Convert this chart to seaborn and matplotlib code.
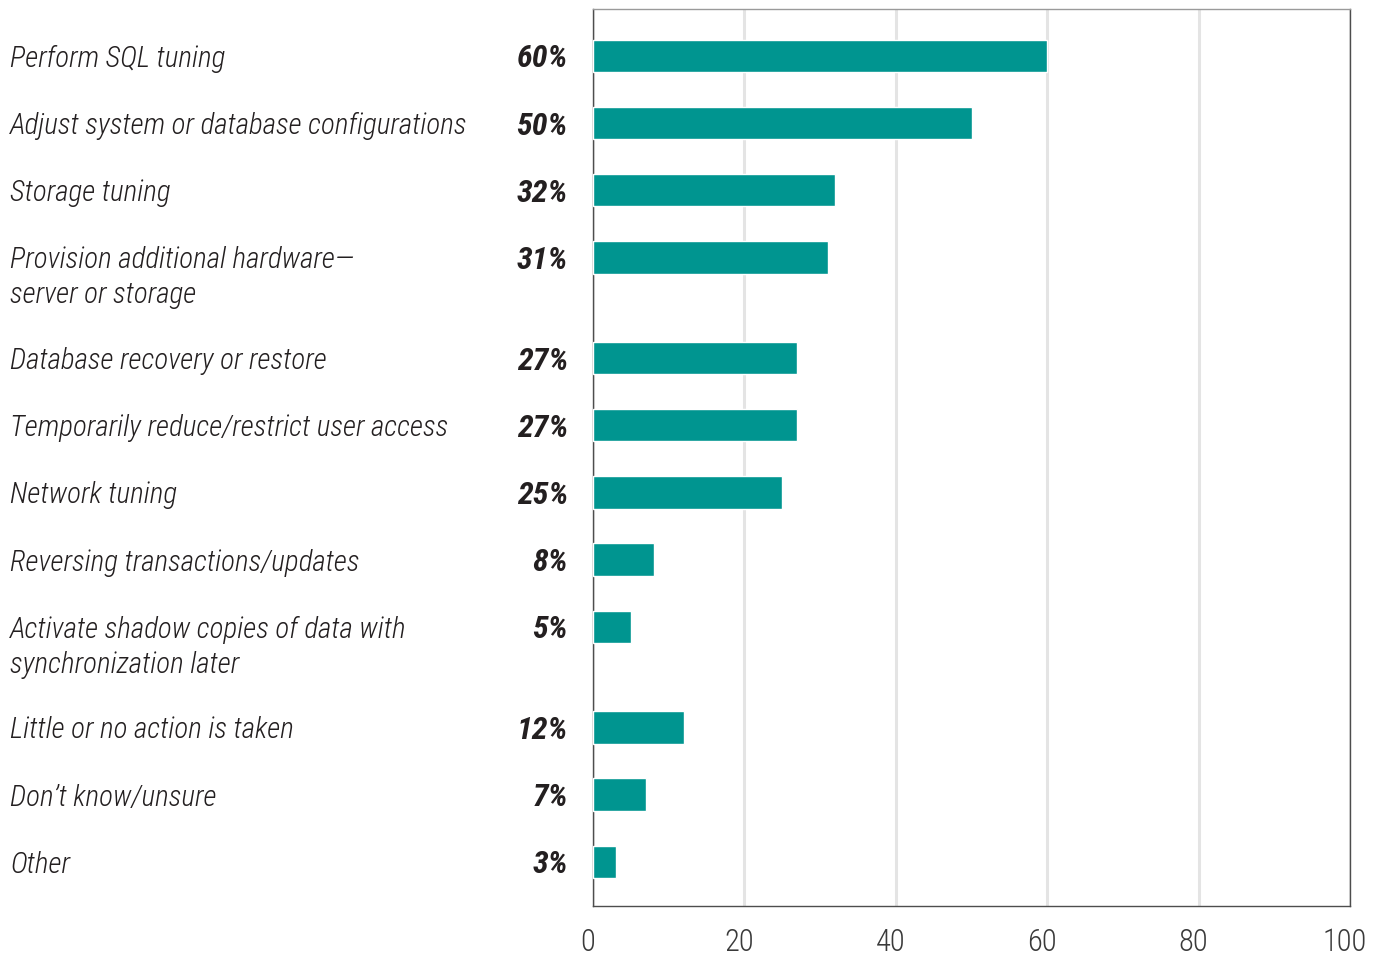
import matplotlib
matplotlib.use("Agg")
import matplotlib.pyplot as plt
import matplotlib.transforms as mtransforms
import seaborn as sns
import pandas as pd

categories = [
    "Perform SQL tuning",
    "Adjust system or database configurations",
    "Storage tuning",
    "Provision additional hardware\u2014\nserver or storage",
    "Database recovery or restore",
    "Temporarily reduce/restrict user access",
    "Network tuning",
    "Reversing transactions/updates",
    "Activate shadow copies of data with\nsynchronization later",
    "Little or no action is taken",
    "Don\u2019t know/unsure",
    "Other",
]
percentages = [60, 50, 32, 31, 27, 27, 25, 8, 5, 12, 7, 3]
x_ticks = [0, 20, 40, 60, 80, 100]

# Row positions: a two-line label pushes the next row down by half a row
rows = []
pos = 0.0
for label in categories:
    rows.append(pos)
    pos += 1.0 + 0.5 * label.count("\n")

df = pd.DataFrame({"category": categories, "pct": percentages, "row": rows})

sns.set_theme(style="white")
plt.rcParams["font.family"] = ["Roboto Condensed", "DejaVu Sans"]
text_color = "#231f20"
bar_color = "#009590"

fig = plt.figure(figsize=(13.82, 9.6), dpi=100)
ax = fig.add_axes([593 / 1382, 54 / 960, 757 / 1382, 897 / 960])

sns.barplot(
    data=df, x="pct", y="row", orient="h", native_scale=True,
    color=bar_color, saturation=1, width=0.48, errorbar=None,
    ax=ax, zorder=3,
)

ax.set_xlim(0, 100)
ax.set_ylim(rows[-1] + 0.66, -0.7)
ax.set_xticks(x_ticks)
ax.set_yticks([])
ax.set_xlabel("")
ax.set_ylabel("")
ax.tick_params(axis="x", length=0, pad=16, labelsize=22, labelcolor="#3a3a3a")
shift = mtransforms.ScaledTranslation(-5 / 100, 0, fig.dpi_scale_trans)
for lab in ax.get_xticklabels():
    lab.set_fontweight(300)
    lab.set_transform(lab.get_transform() + shift)

ax.set_axisbelow(True)
ax.xaxis.grid(True, color="#e4e4e4", linewidth=2.2)
ax.yaxis.grid(False)
for side in ["left", "bottom", "right", "top"]:
    ax.spines[side].set_visible(True)
    ax.spines[side].set_color("#4d4d4d")
    ax.spines[side].set_linewidth(1.0)
ax.spines["top"].set_color("#9a9a9a")

# Category names on the left (first line level with the bar, further lines
# stacked below) and value labels just left of the axis
label_tf = mtransforms.blended_transform_factory(fig.transFigure, ax.transData)
line_step = 35 / 100  # inches between wrapped label lines
for name, val, y in zip(categories, percentages, rows):
    for i, line in enumerate(name.split("\n")):
        down = mtransforms.ScaledTranslation(0, -i * line_step, fig.dpi_scale_trans)
        ax.text(10 / 1382, y, line, transform=label_tf + down, ha="left",
                va="center_baseline", fontsize=21, style="italic",
                fontweight=300, color=text_color)
    ax.text(568 / 1382, y, f"{val}%", transform=label_tf, ha="right",
            va="center_baseline", fontsize=23, style="italic",
            fontweight="bold", color=text_color)

fig.savefig("out.png", dpi=100, facecolor="white")
